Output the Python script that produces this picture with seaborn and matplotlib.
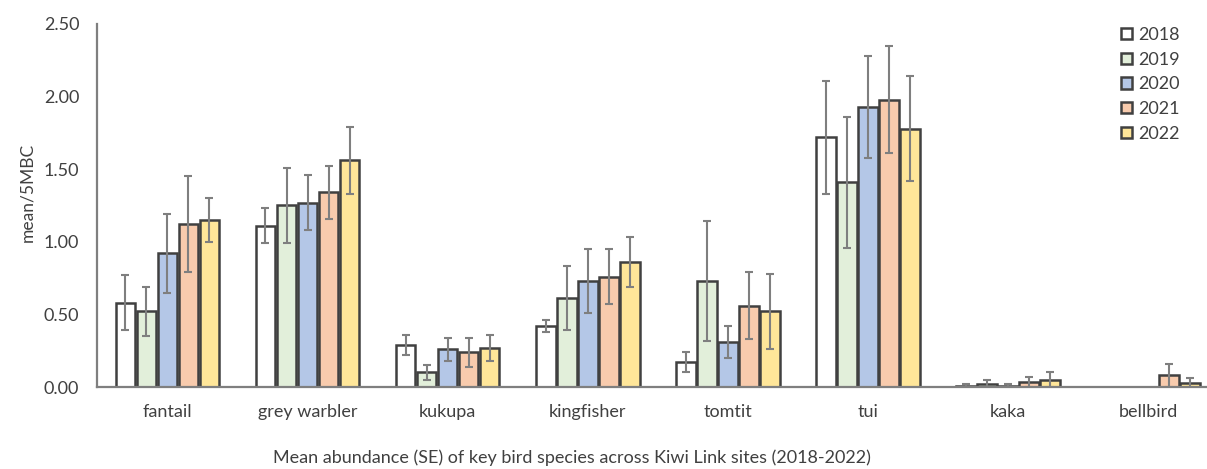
import matplotlib
matplotlib.use("Agg")
import matplotlib.pyplot as plt
import seaborn as sns
import pandas as pd
import numpy as np

species = ["fantail", "grey warbler", "kukupa", "kingfisher", "tomtit", "tui", "kaka", "bellbird"]
years = ["2018", "2019", "2020", "2021", "2022"]

mean_2018 = [0.58, 1.11, 0.29, 0.42, 0.17, 1.72, 0.01, 0.00]
mean_2019 = [0.52, 1.25, 0.10, 0.61, 0.73, 1.41, 0.02, 0.00]
mean_2020 = [0.92, 1.27, 0.26, 0.73, 0.31, 1.93, 0.01, 0.00]
mean_2021 = [1.12, 1.34, 0.24, 0.76, 0.56, 1.98, 0.035, 0.08]
mean_2022 = [1.15, 1.56, 0.27, 0.86, 0.52, 1.78, 0.05, 0.03]

se_2018 = [0.19, 0.12, 0.07, 0.04, 0.07, 0.39, 0.01, np.nan]
se_2019 = [0.17, 0.26, 0.05, 0.22, 0.41, 0.45, 0.03, np.nan]
se_2020 = [0.27, 0.19, 0.08, 0.22, 0.11, 0.35, 0.01, np.nan]
se_2021 = [0.33, 0.18, 0.10, 0.19, 0.23, 0.37, 0.035, 0.08]
se_2022 = [0.15, 0.23, 0.09, 0.17, 0.26, 0.36, 0.05, 0.03]

colors = ["#FFFFFF", "#E2EFDA", "#B4C7E7", "#F8CBAD", "#FFE699"]

means = [mean_2018, mean_2019, mean_2020, mean_2021, mean_2022]
ses = [se_2018, se_2019, se_2020, se_2021, se_2022]

rows = []
for y, m, s in zip(years, means, ses):
    for sp, v, e in zip(species, m, s):
        rows.append({"species": sp, "year": y, "mean": v, "se": e})
df = pd.DataFrame(rows)

sns.set_style("white")
plt.rcParams['font.family'] = ['Lato', 'DejaVu Sans']

fig = plt.figure(figsize=(12.07, 4.69), dpi=100)
ax = fig.add_axes([97.4/1207, (469-387)/469, (1218-97.4)/1207, 363/469])

sns.barplot(data=df, x="species", y="mean", hue="year", order=species,
            hue_order=years, palette=colors, errorbar=None, width=0.75,
            gap=0.06, edgecolor="#404040", linewidth=1.8, ax=ax, saturation=1)

for cont, s in zip(ax.containers, ses):
    for bar, e in zip(cont, s):
        if np.isnan(e):
            continue
        xc = bar.get_x() + bar.get_width() / 2
        ax.errorbar(xc, bar.get_height(), yerr=e, fmt="none", ecolor="#7F7F7F",
                    elinewidth=1.5, capsize=3.2, capthick=1.5, zorder=5)

ax.set_ylim(0, 2.5)
ax.set_xlim(-0.5, len(species) - 0.5)
ax.set_yticks(np.arange(0, 2.51, 0.5))
ax.set_yticklabels([f"{v:.2f}" for v in np.arange(0, 2.51, 0.5)], fontsize=13, color="#404040")
ax.tick_params(axis="x", labelsize=13, colors="#404040", length=0, pad=12)
ax.tick_params(axis="y", length=0, pad=13)
ax.set_xlabel("")
ax.set_ylabel("")
fig.text(27/1207, 1 - 192/469, "mean/5MBC", rotation=90, ha="center", va="center",
         fontsize=12.5, color="#404040")

for sp in ["top", "right"]:
    ax.spines[sp].set_visible(False)
ax.spines["left"].set_color("#7F7F7F")
ax.spines["left"].set_linewidth(1.6)
ax.spines["bottom"].set_color("#7F7F7F")
ax.spines["bottom"].set_linewidth(1.6)

leg = ax.legend(loc="upper left", bbox_to_anchor=((1121-97.4)/1120.6, 1 - 3/363), frameon=False,
                fontsize=13, handlelength=0.6, handleheight=0.6, labelspacing=0.48,
                handletextpad=0.35, borderaxespad=0, borderpad=0)
for t in leg.get_texts():
    t.set_color("#404040")

fig.text(572/1207, 1 - 458/469, "Mean abundance (SE) of key bird species across Kiwi Link sites (2018-2022)",
         ha="center", va="center", fontsize=13, color="#404040")

fig.savefig("out.png", dpi=100)
